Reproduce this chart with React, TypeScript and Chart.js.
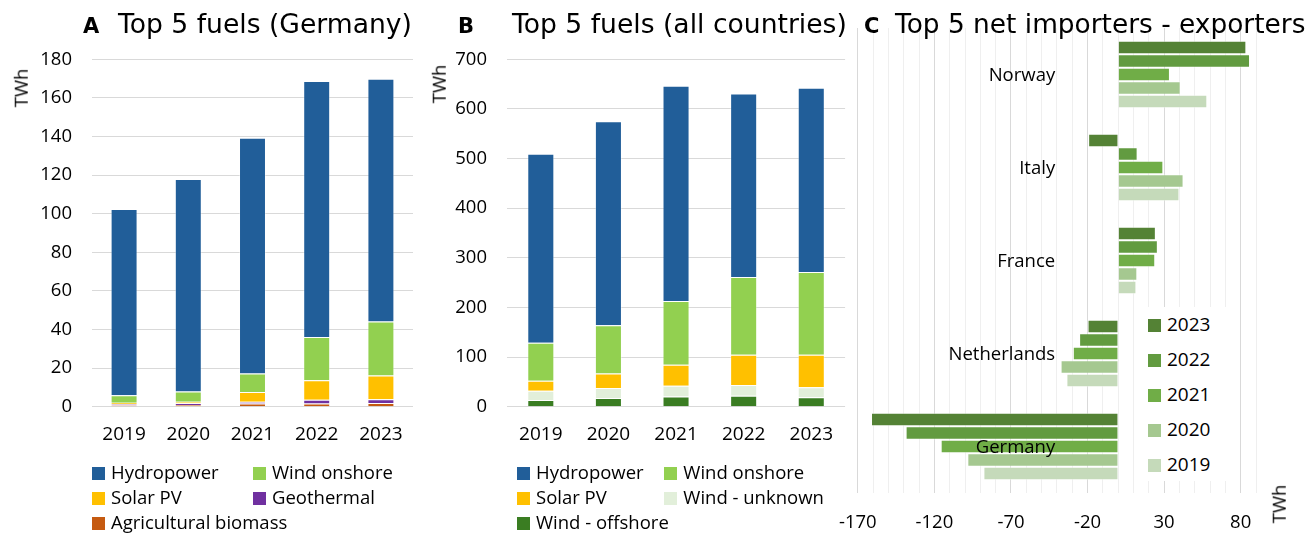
import React, { useEffect, useRef } from 'react';
import { Chart, registerables } from 'chart.js';

Chart.register(...registerables);

// ---------- DATA ----------
const years = ['2019', '2020', '2021', '2022', '2023'];

// Panel A: Germany (TWh)
const deBiomass = [0.7, 0.9, 1.6, 1.7, 1.9];
const deGeothermal = [0.7, 0.9, 1.0, 1.9, 2.0];
const deSolar = [0.7, 0.8, 5.0, 10.1, 12.3];
const deWindOnshore = [3.8, 5.3, 9.6, 22.4, 28.0];
const deHydro = [96.6, 110.1, 122.2, 132.7, 125.7];

// Panel B: all countries (TWh)
const allWindOffshore = [13.5, 17.5, 20.8, 22.2, 18.8];
const allWindUnknown = [18.8, 20.2, 21.5, 21.5, 20.2];
const allSolar = [20.1, 29.4, 42.2, 61.0, 65.7];
const allWindOnshore = [76.6, 97.1, 128.3, 156.8, 166.9];
const allHydro = [380.5, 411.2, 433.8, 369.5, 370.9];

// Panel C: net importers (-) / exporters (+) (TWh)
const countries = ['Norway', 'Italy', 'France', 'Netherlands', 'Germany'];
const net2023 = [83.7, -19.6, 24.6, -20.0, -161.4];
const net2022 = [86.1, 12.7, 25.9, -25.5, -138.8];
const net2021 = [33.8, 29.5, 24.2, -29.6, -115.9];
const net2020 = [40.8, 42.7, 12.5, -37.6, -98.5];
const net2019 = [58.2, 40.0, 11.9, -33.8, -88.0];

const C_MIN = -170;
const C_MAX = 90;

// ---------- STYLE ----------
const COL = {
  hydro: '#215E99',
  windOn: '#92D050',
  solar: '#FFC000',
  geo: '#7030A0',
  biomass: '#C55A11',
  windOff: '#3A7D22',
  windUnk: '#E2EFDA',
};
const YEAR_COLORS: Record<string, string> = {
  '2023': '#548235',
  '2022': '#629B40',
  '2021': '#70AD47',
  '2020': '#A5C890',
  '2019': '#C5DABA',
};
const SANS = '"Open Sans", "Noto Sans", sans-serif';
const TITLE = '"DejaVu Sans", Verdana, sans-serif';

function Label(props: { x: number; baseline: number; size: number; title?: boolean; bold?: boolean; children: any }) {
  const k = props.title ? 0.846 : 0.888;
  return (
    <div
      style={{
        position: 'absolute',
        left: props.x,
        top: props.baseline - k * props.size,
        fontFamily: props.title ? TITLE : SANS,
        fontSize: props.size,
        lineHeight: `${props.size}px`,
        fontWeight: props.bold ? 700 : 400,
        whiteSpace: 'nowrap',
        color: '#000',
      }}
    >
      {props.children}
    </div>
  );
}

function VLabel(props: { cx: number; cy: number; size: number; children: any }) {
  return (
    <div
      style={{
        position: 'absolute',
        left: props.cx,
        top: props.cy,
        transform: 'translate(-50%, -50%) rotate(-90deg)',
        fontFamily: SANS,
        fontSize: props.size,
        lineHeight: `${props.size}px`,
        whiteSpace: 'nowrap',
        color: '#000',
      }}
    >
      {props.children}
    </div>
  );
}

function LegendItem(props: { x: number; cy: number; color: string; text: string; gap?: number; size?: number; box?: number }) {
  const size = props.size ?? 18.5;
  const box = props.box ?? 13;
  return (
    <>
      <div
        style={{
          position: 'absolute',
          left: props.x,
          top: props.cy - box / 2,
          width: box,
          height: box,
          background: props.color,
        }}
      />
      <Label x={props.x + (props.gap ?? 18.7)} baseline={props.cy + 6.6} size={size}>
        {props.text}
      </Label>
    </>
  );
}

export default function App() {
  const refA = useRef<HTMLCanvasElement>(null);
  const refB = useRef<HTMLCanvasElement>(null);
  const refC = useRef<HTMLCanvasElement>(null);

  useEffect(() => {
    const tickFont = { family: SANS, size: 18.5 };
    const xFont = { family: SANS, size: 19 };

    const stackedOptions = (yMax: number, step: number, yWidth: number, padRight: number, barPct: number, canvasH: number) => ({
      animation: false as const,
      responsive: false,
      layout: { padding: { top: 59.3, right: padRight, left: 0, bottom: 0 } },
      plugins: { legend: { display: false }, tooltip: { enabled: false }, title: { display: false } },
      datasets: { bar: { categoryPercentage: 1, barPercentage: barPct } },
      scales: {
        x: {
          stacked: true,
          grid: { display: false, drawTicks: false },
          border: { display: false },
          ticks: { font: xFont, color: '#000', padding: 16.6, maxRotation: 0 },
          afterFit: (s: any) => {
            s.height = canvasH - 406.7;
          },
        },
        y: {
          stacked: true,
          min: 0,
          max: yMax,
          ticks: { stepSize: step, font: tickFont, color: '#000', padding: 20 },
          grid: { color: '#D9D9D9', drawTicks: false, lineWidth: 1 },
          border: { display: false },
          afterFit: (s: any) => {
            s.width = yWidth;
          },
        },
      },
    });

    const barBorder = { borderWidth: 1, borderColor: 'rgba(255,255,255,0.35)' };

    const chartA = new Chart(refA.current!, {
      type: 'bar',
      data: {
        labels: years,
        datasets: [
          { label: 'Agricultural biomass', data: deBiomass, backgroundColor: COL.biomass, ...barBorder },
          { label: 'Geothermal', data: deGeothermal, backgroundColor: COL.geo, ...barBorder },
          { label: 'Solar PV', data: deSolar, backgroundColor: COL.solar, ...barBorder },
          { label: 'Wind onshore', data: deWindOnshore, backgroundColor: COL.windOn, ...barBorder },
          { label: 'Hydropower', data: deHydro, backgroundColor: COL.hydro, ...barBorder },
        ],
      },
      options: stackedOptions(180, 20, 92, 17, 0.42, 460) as any,
    });

    const chartB = new Chart(refB.current!, {
      type: 'bar',
      data: {
        labels: years,
        datasets: [
          { label: 'Wind - offshore', data: allWindOffshore, backgroundColor: COL.windOff, ...barBorder },
          { label: 'Wind - unknown', data: allWindUnknown, backgroundColor: COL.windUnk, ...barBorder },
          { label: 'Solar PV', data: allSolar, backgroundColor: COL.solar, ...barBorder },
          { label: 'Wind onshore', data: allWindOnshore, backgroundColor: COL.windOn, ...barBorder },
          { label: 'Hydropower', data: allHydro, backgroundColor: COL.hydro, ...barBorder },
        ],
      },
      options: stackedOptions(700, 100, 77, 4, 0.4, 460) as any,
    });

    const catLabels = {
      id: 'catLabels',
      afterDatasetsDraw(chart: any) {
        const { ctx, scales } = chart;
        const x0 = scales.x.getPixelForValue(0);
        ctx.save();
        ctx.font = `18.5px ${SANS}`;
        ctx.fillStyle = '#000';
        ctx.textAlign = 'right';
        ctx.textBaseline = 'middle';
        countries.forEach((c, i) => {
          ctx.fillText(c, x0 - 63, scales.y.getPixelForValue(i) + 1);
        });
        ctx.restore();
      },
    };

    const cBorder = { borderWidth: 1, borderColor: 'rgba(255,255,255,0.5)' };
    const chartC = new Chart(refC.current!, {
      type: 'bar',
      data: {
        labels: countries,
        datasets: [
          { label: '2023', data: net2023, backgroundColor: YEAR_COLORS['2023'], ...cBorder },
          { label: '2022', data: net2022, backgroundColor: YEAR_COLORS['2022'], ...cBorder },
          { label: '2021', data: net2021, backgroundColor: YEAR_COLORS['2021'], ...cBorder },
          { label: '2020', data: net2020, backgroundColor: YEAR_COLORS['2020'], ...cBorder },
          { label: '2019', data: net2019, backgroundColor: YEAR_COLORS['2019'], ...cBorder },
        ],
      },
      plugins: [catLabels],
      options: {
        animation: false,
        responsive: false,
        indexAxis: 'y',
        layout: { padding: { top: 28, right: 52, left: 29, bottom: 0 } },
        plugins: { legend: { display: false }, tooltip: { enabled: false } },
        datasets: { bar: { categoryPercentage: 0.727, barPercentage: 1 } },
        scales: {
          x: {
            min: C_MIN,
            max: C_MAX,
            ticks: {
              stepSize: 10,
              autoSkip: false,
              maxRotation: 0,
              font: tickFont,
              color: '#000',
              padding: 19,
              callback: (v: any) => ((Number(v) - C_MIN) % 50 === 0 ? String(v) : ''),
            },
            grid: {
              drawTicks: false,
              color: (ctx: any) => ((ctx.tick && (ctx.tick.value - C_MIN) % 50 === 0) ? '#D9D9D9' : '#EFEFEF'),
            },
            border: { display: false },
            afterFit: (s: any) => {
              s.height = 41;
            },
          },
          y: {
            type: 'category',
            display: false,
            grid: { display: false },
          },
        },
      } as any,
    });

    return () => {
      chartA.destroy();
      chartB.destroy();
      chartC.destroy();
    };
  }, []);

  return (
    <div
      style={{
        position: 'fixed',
        left: 0,
        top: 0,
        width: 1308,
        height: 534,
        background: '#fff',
        overflow: 'hidden',
      }}
    >
      <canvas ref={refA} width={430} height={460} style={{ position: 'absolute', left: 0, top: 0, width: 430, height: 460 }} />
      <canvas ref={refB} width={420} height={460} style={{ position: 'absolute', left: 430, top: 0, width: 420, height: 460 }} />
      <canvas ref={refC} width={488} height={534} style={{ position: 'absolute', left: 820, top: 0, width: 488, height: 534 }} />

      {/* Titles */}
      <Label x={83} baseline={33.3} size={21} title bold>A</Label>
      <Label x={118} baseline={33.3} size={26.6} title>Top 5 fuels (Germany)</Label>
      <Label x={458} baseline={33.3} size={21} title bold>B</Label>
      <Label x={512} baseline={33.3} size={26.6} title>Top 5 fuels (all countries)</Label>
      <Label x={864} baseline={33.3} size={21} title bold>C</Label>
      <Label x={895} baseline={33.3} size={26.4} title>Top 5 net importers - exporters</Label>

      {/* Axis titles */}
      <VLabel cx={20.8} cy={88.3} size={18.5}>TWh</VLabel>
      <VLabel cx={439} cy={84} size={18.5}>TWh</VLabel>
      <VLabel cx={1279} cy={504} size={18.5}>TWh</VLabel>

      {/* Legend A */}
      <LegendItem x={92.3} cy={473.3} color={COL.hydro} text="Hydropower" />
      <LegendItem x={253.3} cy={473.3} color={COL.windOn} text="Wind onshore" />
      <LegendItem x={92.3} cy={498.3} color={COL.solar} text="Solar PV" />
      <LegendItem x={253.3} cy={498.3} color={COL.geo} text="Geothermal" />
      <LegendItem x={92.3} cy={523.3} color={COL.biomass} text="Agricultural biomass" />

      {/* Legend B */}
      <LegendItem x={517.3} cy={473.3} color={COL.hydro} text="Hydropower" />
      <LegendItem x={664.3} cy={473.3} color={COL.windOn} text="Wind onshore" gap={19} />
      <LegendItem x={517.3} cy={498.3} color={COL.solar} text="Solar PV" />
      <LegendItem x={664.3} cy={498.3} color={COL.windUnk} text="Wind - unknown" gap={19} />
      <LegendItem x={517.3} cy={523.3} color={COL.windOff} text="Wind - offshore" />

      {/* Legend C */}
      <div style={{ position: 'absolute', left: 1138, top: 307, width: 92, height: 174, background: '#fff' }} />
      <LegendItem x={1148} cy={325.5} color={YEAR_COLORS['2023']} text="2023" gap={19} size={19} />
      <LegendItem x={1148} cy={360.5} color={YEAR_COLORS['2022']} text="2022" gap={19} size={19} />
      <LegendItem x={1148} cy={395.5} color={YEAR_COLORS['2021']} text="2021" gap={19} size={19} />
      <LegendItem x={1148} cy={430.5} color={YEAR_COLORS['2020']} text="2020" gap={19} size={19} />
      <LegendItem x={1148} cy={465.5} color={YEAR_COLORS['2019']} text="2019" gap={19} size={19} />
    </div>
  );
}
